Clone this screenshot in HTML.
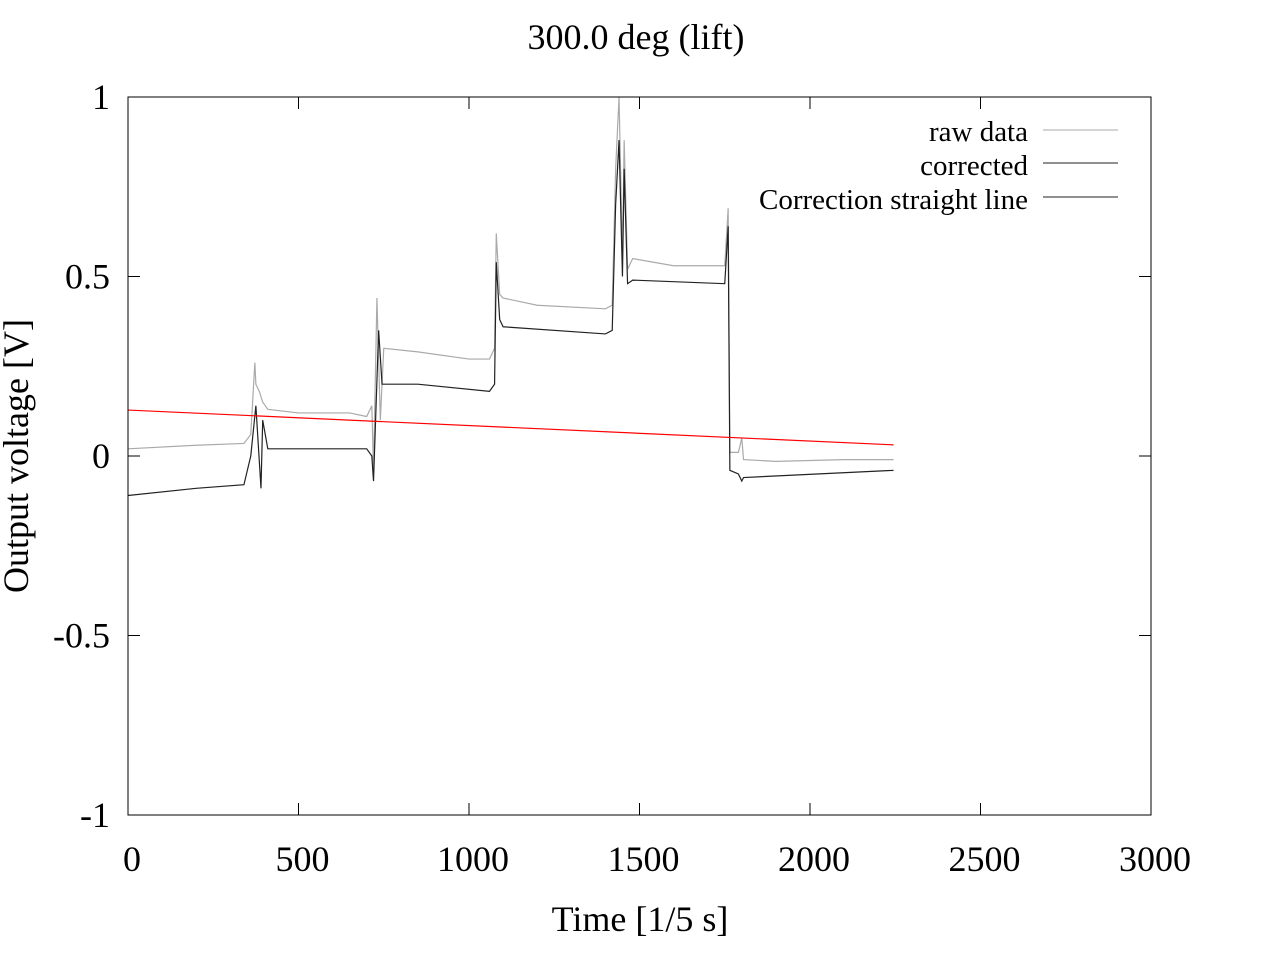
<!DOCTYPE html>
<html><head><meta charset="utf-8"><style>
body{margin:0;background:#fff}
svg{display:block;font-family:"Liberation Serif",serif}
</style></head><body>
<svg id="chart" width="1280" height="960">
<text x="636" y="49" font-size="36" text-anchor="middle">300.0 deg (lift)</text>
<text x="640" y="931" font-size="36" text-anchor="middle">Time [1/5 s]</text>
<text transform="translate(28,456) rotate(-90)" font-size="36" text-anchor="middle">Output voltage [V]</text>
<g id="ticks"></g>
<g id="series"></g>
<rect x="128" y="97" width="1023" height="718" fill="none" stroke="#000" stroke-width="1"/>
<g>
<text x="1028" y="141" font-size="29" text-anchor="end">raw data</text>
<line x1="1043" y1="130" x2="1118" y2="130" stroke="#aaa"/>
<text x="1028" y="175" font-size="29" text-anchor="end">corrected</text>
<line x1="1043" y1="163" x2="1118" y2="163" stroke="#222"/>
<text x="1028" y="209" font-size="29" text-anchor="end">Correction straight line</text>
<line x1="1043" y1="197" x2="1118" y2="197" stroke="#222"/>
</g>
</svg>
<script>
const xTicks=[0,500,1000,1500,2000,2500,3000];
const yTicks=[1,0.5,0,-0.5,-1];
const yTickLabels=["1","0.5","0","-0.5","-1"];
const rawT=[0,200,340,360,372,375,385,395,410,500,650,700,715,720,730,740,750,850,1000,1060,1075,1080,1090,1100,1200,1400,1420,1430,1440,1450,1455,1465,1480,1600,1750,1760,1765,1790,1800,1805,1900,2100,2245];
const rawV=[0.02,0.03,0.035,0.06,0.26,0.2,0.18,0.15,0.13,0.12,0.12,0.11,0.14,-0.04,0.44,0.1,0.3,0.29,0.27,0.27,0.3,0.62,0.45,0.44,0.42,0.41,0.42,0.8,1.0,0.55,0.88,0.52,0.55,0.53,0.53,0.69,0.01,0.01,0.05,-0.01,-0.015,-0.01,-0.01];
const corT=[0,200,340,360,375,390,395,410,650,700,715,720,735,745,850,1060,1075,1080,1090,1100,1400,1420,1430,1440,1450,1455,1465,1480,1750,1760,1765,1790,1800,1805,2245];
const corV=[-0.11,-0.09,-0.08,0.0,0.14,-0.09,0.1,0.02,0.02,0.02,0.0,-0.07,0.35,0.2,0.2,0.18,0.2,0.54,0.38,0.36,0.34,0.35,0.7,0.88,0.5,0.8,0.48,0.49,0.48,0.64,-0.04,-0.05,-0.07,-0.06,-0.04];
const lineT=[0,2245];
const lineV=[0.128,0.031];
const X=t=>128+t*(1023/3000);
const Y=v=>456-v*359;
const NS="http://www.w3.org/2000/svg";
const tk=document.getElementById('ticks');
xTicks.forEach(t=>{
 const l=document.createElementNS(NS,'path');
 l.setAttribute('d',`M${X(t)},815v-12M${X(t)},97v12`);l.setAttribute('stroke','#000');
 
 
 tk.appendChild(l);
 const s=document.createElementNS(NS,'text');
 s.setAttribute('x',X(t)+4);s.setAttribute('y',871);s.setAttribute('font-size','36');s.setAttribute('text-anchor','middle');s.textContent=t;
 
 
 tk.appendChild(s);
});
yTicks.forEach((v,i)=>{
 const l=document.createElementNS(NS,'path');
 l.setAttribute('d',`M128,${Y(v)}h12M1151,${Y(v)}h-12`);l.setAttribute('stroke','#000');
 
 
 tk.appendChild(l);
 const s=document.createElementNS(NS,'text');
 s.setAttribute('x',110);s.setAttribute('y',Y(v)+12);s.setAttribute('font-size','36');s.setAttribute('text-anchor','end');s.textContent=yTickLabels[i];
 
 
 tk.appendChild(s);
});
const sg=document.getElementById('series');
function poly(T,V,c,name){
 const p=document.createElementNS(NS,'polyline');
 p.setAttribute('points',T.map((t,i)=>X(t)+','+Y(V[i])).join(' '));
 p.setAttribute('fill','none');p.setAttribute('stroke',c);p.setAttribute('stroke-width','1.2');
 
 
 sg.appendChild(p);
}
poly(rawT,rawV,'#aaa','raw-data-line');
poly(corT,corV,'#222','corrected-line');
poly(lineT,lineV,'#f00','correction-straight-line');
</script>
</body></html>
